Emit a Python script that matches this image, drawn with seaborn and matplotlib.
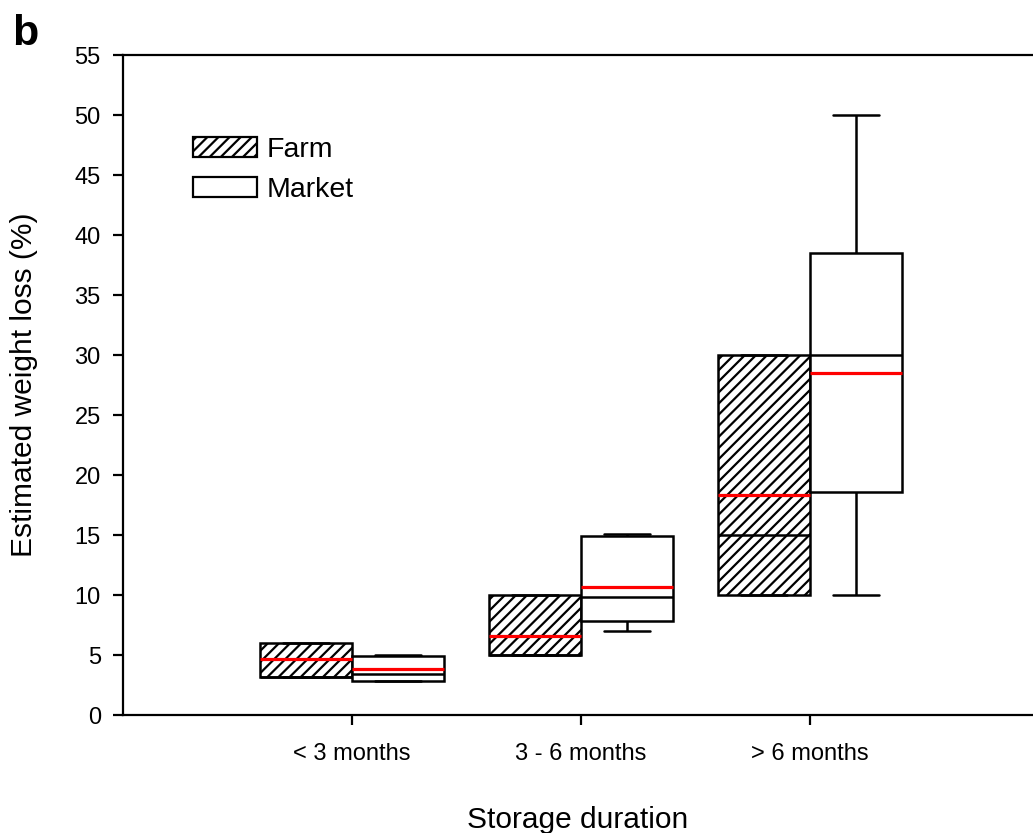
import numpy as np
import pandas as pd
import matplotlib
matplotlib.use('Agg')
import matplotlib.pyplot as plt
from matplotlib.patches import Patch
import seaborn as sns

durations = ["< 3 months", "3 - 6 months", "> 6 months"]
sources = ["Farm", "Market"]

# box summaries: whisker low, Q1, median, Q3, whisker high
farm_low = [3.2, 5.0, 10.0]
farm_q1 = [3.2, 5.0, 10.0]
farm_median = [3.2, 5.0, 15.0]
farm_q3 = [6.0, 10.0, 30.0]
farm_high = [6.0, 10.0, 30.0]
farm_mean = [4.7, 6.6, 18.3]

market_low = [2.8, 7.0, 10.0]
market_q1 = [2.8, 7.85, 18.6]
market_median = [3.4, 9.85, 30.0]
market_q3 = [4.9, 14.9, 38.5]
market_high = [5.0, 15.1, 50.0]
market_mean = [3.85, 10.7, 28.5]

summaries = {
    "Farm": (farm_low, farm_q1, farm_median, farm_q3, farm_high),
    "Market": (market_low, market_q1, market_median, market_q3, market_high),
}
rows = []
for i, d in enumerate(durations):
    for src in sources:
        for arr in summaries[src]:
            rows.append({"duration": d, "source": src, "loss": arr[i]})
df = pd.DataFrame(rows)

sns.set_style("ticks")
plt.rcParams['font.family'] = ['Liberation Sans', 'DejaVu Sans']
plt.rcParams['hatch.color'] = 'black'
plt.rcParams['hatch.linewidth'] = 1.6
plt.rcParams['text.color'] = 'black'
plt.rcParams['axes.labelcolor'] = 'black'
plt.rcParams['axes.edgecolor'] = 'black'

fig = plt.figure(figsize=(10.33, 8.33), dpi=100)
ax = fig.add_axes([123 / 1033, 118 / 833, 1 - 123 / 1033, 660 / 833])

box_width = 0.8
sns.boxplot(data=df, x="duration", y="loss", hue="source", order=durations,
            hue_order=sources, palette={"Farm": "white", "Market": "white"},
            linecolor="black", linewidth=1.8, whis=(0, 100), width=box_width,
            gap=0, fliersize=0, legend=False, ax=ax)

# hatch the farm boxes (left of each category centre)
for p in ax.patches:
    xs = p.get_path().vertices[:, 0]
    cx = (xs.min() + xs.max()) / 2
    if cx - round(cx) < 0:
        p.set_hatch('///')

# mean lines in red
half = box_width / 2
xpos = np.arange(len(durations))
ax.hlines(farm_mean, xpos - half, xpos, color='red', lw=2.3, zorder=5)
ax.hlines(market_mean, xpos, xpos + half, color='red', lw=2.3, zorder=5)

ax.set_xlim(-1, 2.974)
ax.set_ylim(0, 55)
ax.set_yticks(range(0, 56, 5))
ax.spines['right'].set_visible(False)
for s in ['left', 'top', 'bottom']:
    ax.spines[s].set_linewidth(1.6)
ax.tick_params(axis='both', direction='out', length=7, width=1.6,
               colors='black', labelcolor='black')
ax.tick_params(axis='y', labelsize=17, pad=9)
ax.tick_params(axis='x', labelsize=17, pad=13)
ax.set_xlabel("Storage duration", fontsize=21.5, labelpad=30)
ax.set_ylabel("Estimated weight loss (%)", fontsize=21.5, labelpad=26)

handles = [Patch(facecolor='white', edgecolor='black', hatch='///', lw=1.6, label='Farm'),
           Patch(facecolor='white', edgecolor='black', lw=1.6, label='Market')]
ax.legend(handles=handles, loc='upper left', frameon=False, fontsize=20.5,
          handlelength=2.25, handleheight=0.7, handletextpad=0.35,
          labelspacing=0.5, borderpad=0, borderaxespad=0,
          bbox_to_anchor=(193 / 1033, 1 - 137 / 833), bbox_transform=fig.transFigure)

fig.text(12 / 1033, 1 - 45 / 833, "b", fontsize=31, fontweight='bold', va='baseline')

fig.savefig("out.png", dpi=100)
